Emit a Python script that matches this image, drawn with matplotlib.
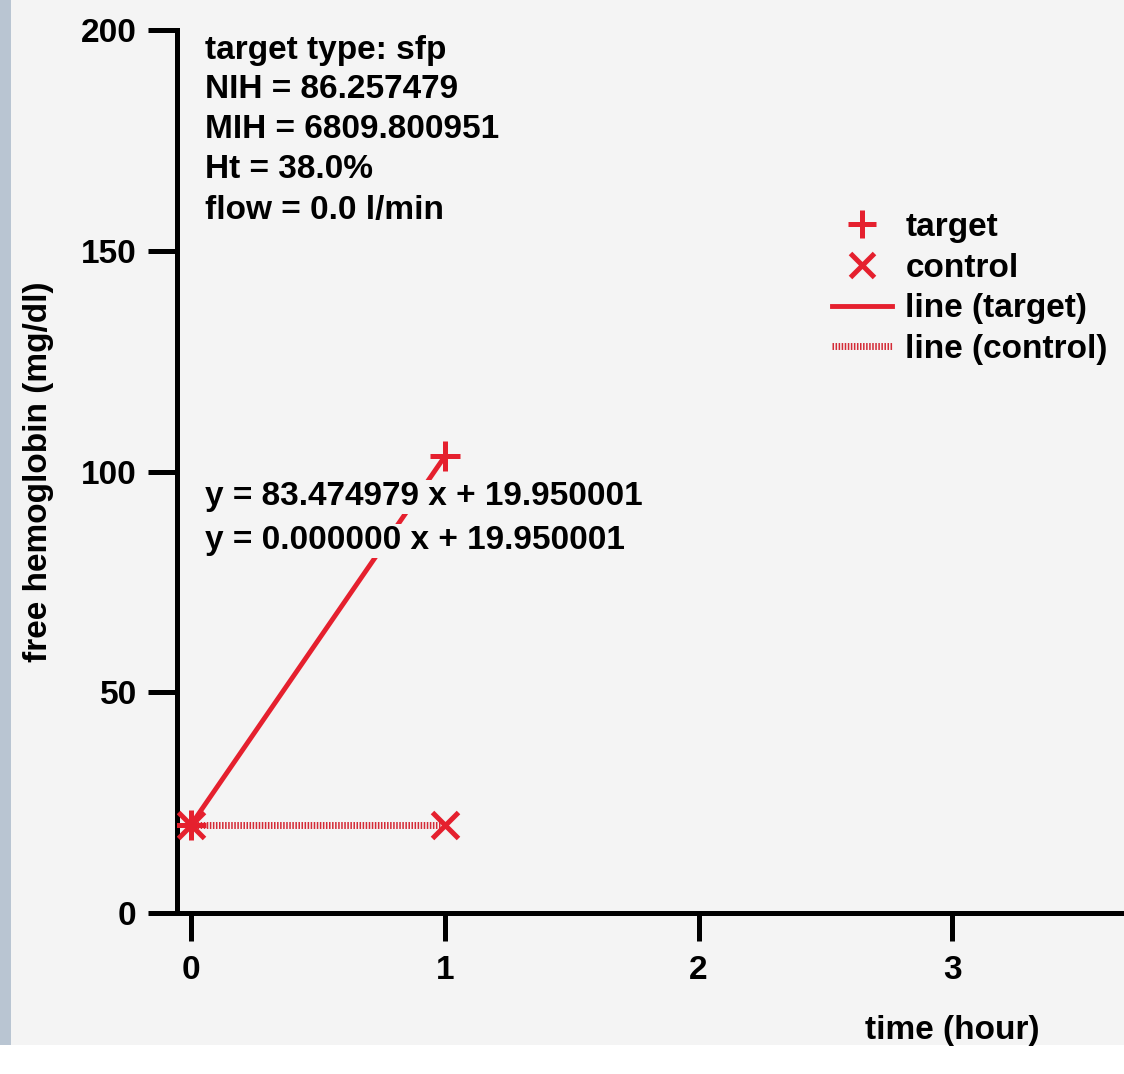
import numpy as np
import matplotlib.pyplot as plt
from matplotlib.patches import Rectangle

plt.rcParams['font.family'] = ['Liberation Sans', 'DejaVu Sans']
plt.rcParams['font.weight'] = 'bold'
plt.rcParams['lines.scale_dashes'] = False

# data
time_h = [0, 1]
target = [19.950001, 103.42498]
control = [19.950001, 19.950001]
slope_t, icpt_t = 83.474979, 19.950001
slope_c, icpt_c = 0.000000, 19.950001
info = ["target type: sfp", "NIH = 86.257479", "MIH = 6809.800951",
        "Ht = 38.0%", "flow = 0.0 l/min"]
xticks = [0, 1, 2, 3]
yticks = [0, 50, 100, 150, 200]

red = '#e5202e'
red_dot = '#d42a36'
bg = '#f4f4f4'
fs = 24

fig = plt.figure(figsize=(11.24, 10.74), dpi=100, facecolor=bg)
W, H = 1124, 1074

# left strip and bottom margin of the screenshot
fig.patches.append(Rectangle((0, 29 / H), 11 / W, 1 - 29 / H, transform=fig.transFigure,
                             facecolor='#b9c5d2', edgecolor='none', zorder=0))
fig.patches.append(Rectangle((0, 0), 1, 29 / H, transform=fig.transFigure,
                             facecolor='white', edgecolor='none', zorder=0))

ax = fig.add_axes([177 / W, (H - 913) / H, (W - 177) / W + 0.01, (913 - 30) / H])
ax.set_facecolor(bg)
ax.set_xlim(-0.055, 3.72)
ax.set_ylim(0, 200)
for s in ['top', 'right']:
    ax.spines[s].set_visible(False)
for s in ['left', 'bottom']:
    ax.spines[s].set_linewidth(3.6)
ax.set_xticks(xticks)
ax.set_yticks(yticks)
ax.tick_params(axis='y', length=21, width=3.6, labelsize=fs, pad=8, direction='out')
ax.tick_params(axis='x', length=20, width=3.6, labelsize=fs, pad=10, direction='out')

# fitted lines
xf = np.array(time_h, dtype=float)
ax.plot(xf, slope_t * xf + icpt_t, color=red, lw=3.5, label='line (target)', zorder=2)
ax.plot(xf, slope_c * xf + icpt_c, color=red_dot, lw=5, linestyle=(0, (1.1, 1.1)),
        label='line (control)', zorder=2)
# points
ax.plot(time_h, target, linestyle='none', marker='+', ms=22, mew=3.6, color=red,
        label='target', zorder=3)
ax.plot(time_h, control, linestyle='none', marker='x', ms=19, mew=3.6, color=red,
        label='control', zorder=3)

handles, labels = ax.get_legend_handles_labels()
order = [2, 3, 0, 1]
ax.legend([handles[i] for i in order], [labels[i] for i in order],
          loc='upper left', bbox_to_anchor=(832 / W, 1 - 212 / H),
          bbox_transform=fig.transFigure, frameon=False, fontsize=fs, borderpad=0,
          handlelength=1.8, handletextpad=0.4, labelspacing=0.29, borderaxespad=0,
          markerscale=0.92)

# info text
for i, line in enumerate(info):
    fig.text(205 / W, 1 - (50 + 40 * i) / H, line, fontsize=fs, va='center', ha='left')

# equations (with background box hiding the line behind)
eqs = [f"y = {slope_t:.6f} x + {icpt_t:.6f}", f"y = {slope_c:.6f} x + {icpt_c:.6f}"]
for i, e in enumerate(eqs):
    ax.text(205 / W, 1 - (497 + 44 * i) / H, e, transform=fig.transFigure, fontsize=fs,
            va='center', ha='left', zorder=4,
            bbox=dict(facecolor=bg, edgecolor='none', pad=1))

ax.set_ylabel("free hemoglobin (mg/dl)", fontsize=fs, fontweight='bold')
ax.yaxis.set_label_coords(-(177 - 55) / 947, 0.5)
fig.text(952 / W, 1 - 1030 / H, "time (hour)", fontsize=fs, ha='center', va='center')

fig.savefig("out.png", dpi=100, facecolor=bg)
